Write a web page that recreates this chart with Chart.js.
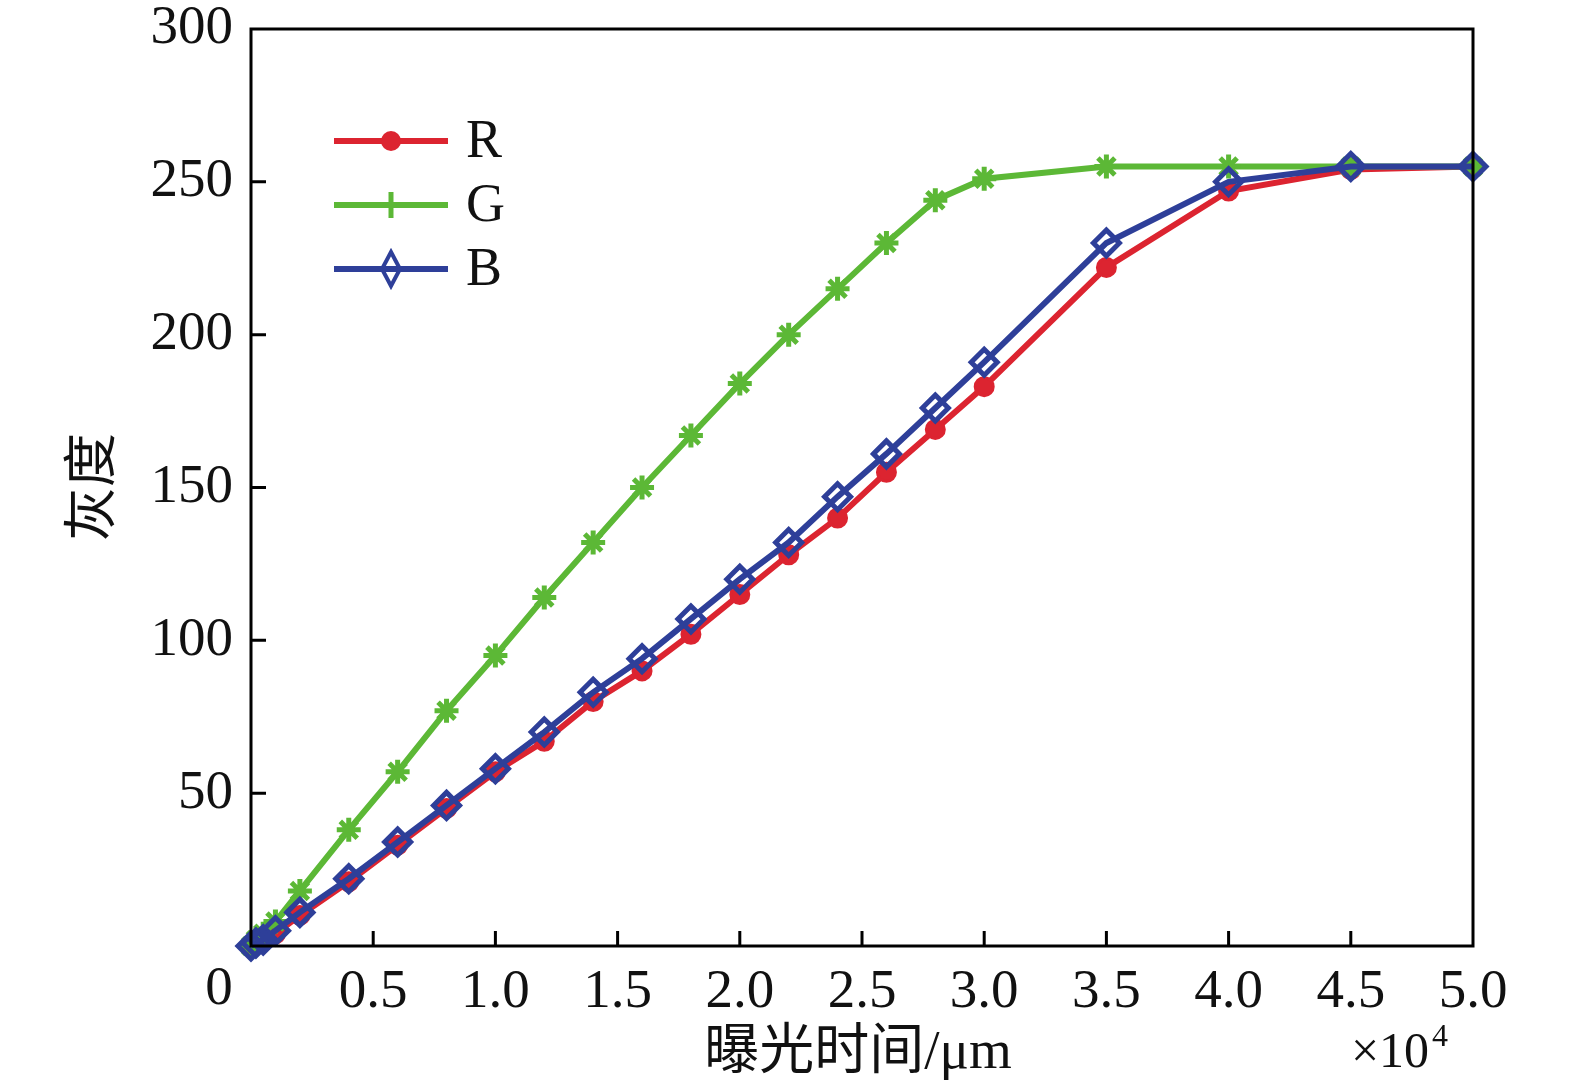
<!DOCTYPE html>
<html>
<head>
<meta charset="utf-8">
<script src="https://cdn.jsdelivr.net/npm/chart.js@4.4.0/dist/chart.umd.min.js"></script>
<style>
  body { margin: 0; background: #fff; }
  canvas { display: block; }
</style>
</head>
<body>
<canvas id="grayChart" width="1575" height="1092"></canvas>
<script>
// exposure time (x 10^4) and gray levels
const exposure = [0, 0.02, 0.05, 0.1, 0.2, 0.4, 0.6, 0.8, 1.0, 1.2, 1.4, 1.6, 1.8, 2.0, 2.2, 2.4, 2.6, 2.8, 3.0, 3.5, 4.0, 4.5, 5.0];
const grayR = [0, 1, 2, 4, 10, 21, 33, 45, 57, 67, 80, 90, 102, 115, 128, 140, 155, 169, 183, 222, 247, 254, 255];
const grayG = [0, 2, 4, 8, 18, 38, 57, 77, 95, 114, 132, 150, 167, 184, 200, 215, 230, 244, 251, 255, 255, 255, 255];
const grayB = [0, 1, 2, 5, 11, 22, 34, 46, 58, 70, 83, 94, 107, 120, 132, 147, 161, 176, 191, 230, 250, 255, 255];
const yTicks = [0, 50, 100, 150, 200, 250, 300];
const xTicks = [0, 0.5, 1.0, 1.5, 2.0, 2.5, 3.0, 3.5, 4.0, 4.5, 5.0];

const RED = '#dc2430';
const GREEN = '#5cb836';
const BLUE = '#2e3f99';
const serif = '"Liberation Serif", "Times New Roman", serif';
const cjk = '"Liberation Serif", "Noto Sans CJK SC", serif';

const toPoints = (ys) => exposure.map((x, i) => ({ x: x, y: ys[i] }));

// box, inward ticks, axis titles and legend
const decorations = {
    id: 'decorations',
    afterDraw(chart) {
        const { ctx, chartArea: a, scales } = chart;
        ctx.save();
        ctx.strokeStyle = '#000';
        ctx.lineWidth = 3;
        ctx.strokeRect(a.left, a.top, a.right - a.left, a.bottom - a.top);

        // inward tick marks
        ctx.beginPath();
        yTicks.slice(1, -1).forEach(v => {
            const py = scales.y.getPixelForValue(v);
            ctx.moveTo(a.left, py);
            ctx.lineTo(a.left + 15, py);
        });
        xTicks.slice(1, -1).forEach(v => {
            const px = scales.x.getPixelForValue(v);
            ctx.moveTo(px, a.bottom);
            ctx.lineTo(px, a.bottom - 15);
        });
        ctx.stroke();

        ctx.fillStyle = '#111';
        ctx.textAlign = 'center';
        ctx.textBaseline = 'middle';
        ctx.font = '55px ' + serif;
        ctx.fillText('0', a.left - 32, a.bottom + 44);

        // x title
        ctx.font = '55px ' + cjk;
        ctx.fillText('曝光时间/μm', 858, 1054);
        ctx.font = '50px ' + serif;
        ctx.fillText('×10', 1390, 1054);
        ctx.font = '32px ' + serif;
        ctx.fillText('4', 1440, 1038);

        // y title
        ctx.save();
        ctx.translate(96, 487);
        ctx.rotate(-Math.PI / 2);
        ctx.font = '54px ' + cjk;
        ctx.fillText('灰度', 0, 0);
        ctx.restore();

        // legend
        const rows = [
            { label: 'R', color: RED, style: 'circle' },
            { label: 'G', color: GREEN, style: 'cross' },
            { label: 'B', color: BLUE, style: 'diamond' }
        ];
        rows.forEach((r, i) => {
            const y = a.top + 112 + i * 64;
            const x0 = a.left + 83, x1 = a.left + 197, xm = (x0 + x1) / 2;
            ctx.strokeStyle = r.color;
            ctx.lineWidth = 6;
            ctx.beginPath();
            ctx.moveTo(x0, y);
            ctx.lineTo(x1, y);
            ctx.stroke();
            ctx.fillStyle = r.color;
            if (r.style === 'circle') {
                ctx.beginPath();
                ctx.arc(xm, y, 10, 0, Math.PI * 2);
                ctx.fill();
            } else if (r.style === 'cross') {
                ctx.lineWidth = 5;
                ctx.beginPath();
                ctx.moveTo(xm, y - 13);
                ctx.lineTo(xm, y + 13);
                ctx.stroke();
            } else {
                ctx.lineWidth = 4;
                ctx.beginPath();
                ctx.moveTo(xm, y - 17);
                ctx.lineTo(xm + 9, y);
                ctx.lineTo(xm, y + 17);
                ctx.lineTo(xm - 9, y);
                ctx.closePath();
                ctx.stroke();
            }
            ctx.fillStyle = '#111';
            ctx.textAlign = 'left';
            ctx.font = '54px ' + serif;
            ctx.fillText(r.label, a.left + 215, y + 2);
        });
        ctx.restore();
    }
};

new Chart(document.getElementById('grayChart').getContext('2d'), {
    type: 'line',
    data: {
        datasets: [
            {
                label: 'R',
                data: toPoints(grayR),
                borderColor: RED,
                backgroundColor: RED,
                borderWidth: 6,
                pointStyle: 'circle',
                pointRadius: 9,
                pointBorderWidth: 3,
                clip: false,
                order: 2
            },
            {
                label: 'G',
                data: toPoints(grayG),
                borderColor: GREEN,
                backgroundColor: GREEN,
                borderWidth: 6,
                pointStyle: 'star',
                pointRadius: 12,
                pointBorderWidth: 5,
                clip: false,
                order: 1
            },
            {
                label: 'B',
                data: toPoints(grayB),
                borderColor: BLUE,
                backgroundColor: 'rgba(255,255,255,0)',
                borderWidth: 6,
                pointStyle: 'rectRot',
                pointRadius: 13,
                pointBorderWidth: 5,
                clip: false,
                order: 0
            }
        ]
    },
    options: {
        responsive: false,
        animation: false,
        devicePixelRatio: 1,
        layout: { padding: { left: 0, top: 13, right: 102, bottom: 0 } },
        plugins: {
            legend: { display: false },
            tooltip: { enabled: false }
        },
        scales: {
            x: {
                type: 'linear',
                min: 0,
                max: 5,
                afterBuildTicks: (scale) => { scale.ticks = xTicks.map(v => ({ value: v })); },
                afterFit: (scale) => { scale.height = 146; },
                grid: { display: false, drawTicks: false },
                border: { display: false },
                ticks: {
                    color: '#111',
                    padding: 14,
                    font: { family: serif, size: 55 },
                    maxRotation: 0,
                    autoSkip: false,
                    callback: (v) => v === 0 ? '' : v.toFixed(1)
                }
            },
            y: {
                min: 0,
                max: 300,
                afterBuildTicks: (scale) => { scale.ticks = yTicks.map(v => ({ value: v })); },
                afterFit: (scale) => { scale.width = 251; },
                grid: { display: false, drawTicks: false },
                border: { display: false },
                ticks: {
                    color: '#111',
                    padding: 18,
                    font: { family: serif, size: 55, lineHeight: 0.4 },
                    callback: (v) => v === 0 ? '' : String(v)
                }
            }
        }
    },
    plugins: [decorations]
});
</script>
</body>
</html>
